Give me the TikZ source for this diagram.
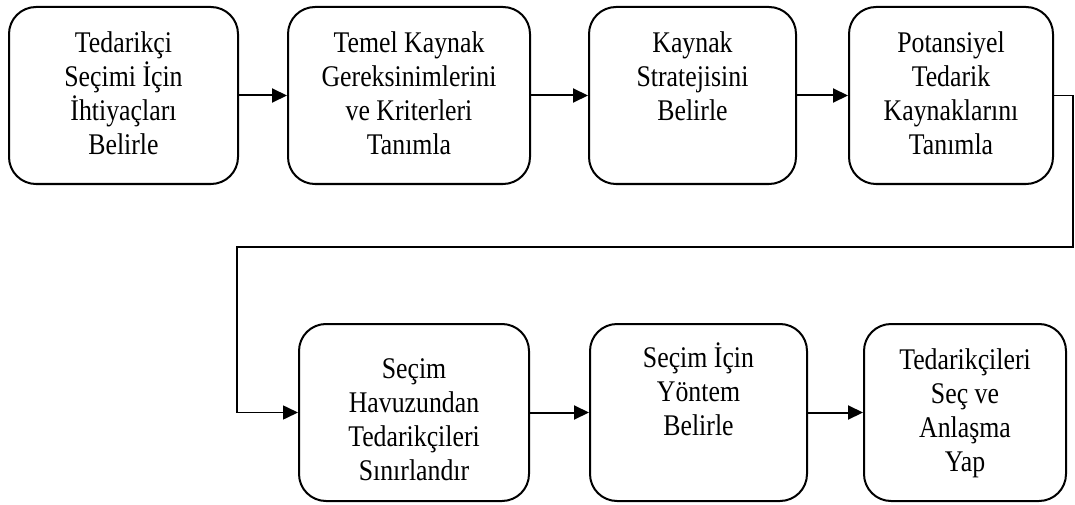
\documentclass[tikz,border=0pt]{standalone}
\usepackage{fontspec}
\setmainfont{Liberation Serif}[FakeStretch=0.86]
\usetikzlibrary{arrows.meta}

% box text: height of box, space above first line, lines
\newcommand\steptext[3]{\parbox[c][#1][t]{200pt}{\centering\fontsize{30pt}{34pt}\selectfont\vspace*{#2}\rule{0pt}{28pt}#3}}

\tikzset{
  stepbox/.style={draw, line width=2pt, rounded corners=27pt, inner sep=0pt,
    minimum height=177pt, anchor=north west},
  flow/.style={line width=2pt, -{Triangle[length=15pt,width=14pt]}},
  backflow/.style={line width=1.6pt, -{Triangle[length=15pt,width=14pt]}}
}

\begin{document}
\begin{tikzpicture}[x=1pt, y=-1pt]
\useasboundingbox (0,0) rectangle (1075,505);

% top row
\node[stepbox, minimum width=229pt] (b1) at (8,6)
  {\steptext{177pt}{18pt}{Tedarikçi\\Seçimi İçin\\İhtiyaçları\\Belirle}};
\node[stepbox, minimum width=242pt] (b2) at (287,6)
  {\steptext{177pt}{18pt}{Temel Kaynak\\Gereksinimlerini\\ve Kriterleri\\Tanımla}};
\node[stepbox, minimum width=207pt] (b3) at (588,6)
  {\steptext{177pt}{18pt}{Kaynak\\Stratejisini\\Belirle}};
\node[stepbox, minimum width=204pt] (b4) at (848,6)
  {\steptext{177pt}{18pt}{Potansiyel\\Tedarik\\Kaynaklarını\\Tanımla}};

% bottom row
\node[stepbox, minimum width=230pt] (b5) at (298,323)
  {\steptext{177pt}{26pt}{Seçim\\Havuzundan\\Tedarikçileri\\Sınırlandır}};
\node[stepbox, minimum width=217pt] (b6) at (589,323)
  {\steptext{177pt}{15pt}{Seçim İçin\\Yöntem\\Belirle}};
\node[stepbox, minimum width=202pt] (b7) at (863,323)
  {\steptext{177pt}{17pt}{Tedarikçileri\\Seç ve\\Anlaşma\\Yap}};

% connectors
\draw[flow] (b1.east) -- (b2.west);
\draw[flow] (b2.east) -- (b3.west);
\draw[flow] (b3.east) -- (b4.west);

\coordinate (r1) at (1073,247);
\coordinate (r2) at (237,247);
\draw[backflow] (b4.east) -| (r1) -- (r2) |- (b5.west);

\draw[flow] (b5.east) -- (b6.west);
\draw[flow] (b6.east) -- (b7.west);
\end{tikzpicture}
\end{document}
